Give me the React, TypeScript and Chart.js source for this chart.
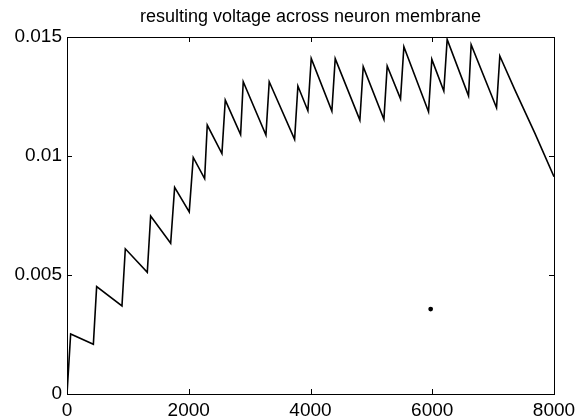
import React, { useEffect, useRef } from "react";
import { Chart, registerables } from "chart.js";

Chart.register(...registerables);

const titleText = "resulting voltage across neuron membrane";
const times = [0, 60, 433, 487, 903, 958, 1319, 1374, 1703, 1768, 2008, 2074, 2261, 2304, 2545, 2600, 2852, 2895, 3268, 3322, 3739, 3793, 3957, 4012, 4351, 4406, 4811, 4866, 5206, 5260, 5479, 5534, 5939, 5993, 6190, 6245, 6596, 6639, 7056, 7110, 7359, 7687, 8000];
const volts = [0, 0.00252, 0.00209, 0.00451, 0.0037, 0.0061, 0.00511, 0.00748, 0.00633, 0.00868, 0.00765, 0.00994, 0.00905, 0.0113, 0.0101, 0.01235, 0.0109, 0.01312, 0.01088, 0.01312, 0.0107, 0.01294, 0.0119, 0.0141, 0.01189, 0.01409, 0.01151, 0.01375, 0.01154, 0.01378, 0.0124, 0.01459, 0.01186, 0.01406, 0.01273, 0.0149, 0.01253, 0.01468, 0.01203, 0.0142, 0.01277, 0.01095, 0.00913];
const speckX = [5974];
const speckY = [0.00357];
const xTicks = [0, 2000, 4000, 6000, 8000];
const yTicks = [0, 0.005, 0.01, 0.015];

const FONT = "'Liberation Sans', Arial, sans-serif";

const boxPlugin = {
  id: "matlabBox",
  afterDatasetsDraw(chart: any) {
    const { ctx, chartArea: a, scales } = chart;
    ctx.save();
    ctx.strokeStyle = "#000";
    ctx.lineWidth = 1;
    ctx.strokeRect(a.left + 0.5, a.top + 0.5, a.right - a.left, a.bottom - a.top);
    const tl = 5;
    ctx.beginPath();
    xTicks.forEach((v) => {
      const px = Math.round(scales.x.getPixelForValue(v)) + 0.5;
      ctx.moveTo(px, a.bottom);
      ctx.lineTo(px, a.bottom - tl);
      ctx.moveTo(px, a.top);
      ctx.lineTo(px, a.top + tl);
    });
    yTicks.forEach((v) => {
      const py = Math.round(scales.y.getPixelForValue(v)) + 0.5;
      ctx.moveTo(a.left, py);
      ctx.lineTo(a.left + tl, py);
      ctx.moveTo(a.right, py);
      ctx.lineTo(a.right - tl, py);
    });
    ctx.stroke();
    ctx.restore();
  },
};

export default function App() {
  const ref = useRef<HTMLCanvasElement | null>(null);
  useEffect(() => {
    if (!ref.current) return;
    const chart = new Chart(ref.current, {
      type: "line",
      data: {
        datasets: [
          {
            data: times.map((t, i) => ({ x: t, y: volts[i] })),
            borderColor: "#000",
            borderWidth: 1.6,
            pointRadius: 0,
            tension: 0,
            fill: false,
          },
          {
            data: speckX.map((t, i) => ({ x: t, y: speckY[i] })),
            showLine: false,
            pointRadius: 2.4,
            pointBackgroundColor: "#000",
            pointBorderWidth: 0,
          },
        ],
      },
      options: {
        animation: false,
        responsive: false,
        layout: { padding: { right: 30, left: 0, top: 0, bottom: 0 } },
        plugins: {
          legend: { display: false },
          tooltip: { enabled: false },
          title: {
            display: true,
            text: titleText,
            fullSize: false,
            color: "#000",
            font: { family: FONT, size: 18, weight: "normal" },
            padding: { top: 6.7, bottom: 8.7 },
          },
        },
        scales: {
          x: {
            type: "linear",
            min: 0,
            max: 8000,
            afterBuildTicks: (s: any) => {
              s.ticks = xTicks.map((v) => ({ value: v }));
            },
            afterFit: (s: any) => {
              s.height = 25;
            },
            grid: { display: false, drawTicks: false },
            border: { display: false },
            ticks: {
              color: "#000",
              font: { family: FONT, size: 19 },
              padding: 5,
              maxRotation: 0,
              autoSkip: false,
              callback: (v: any) => String(v),
            },
          },
          y: {
            type: "linear",
            min: 0,
            max: 0.015,
            afterBuildTicks: (s: any) => {
              s.ticks = yTicks.map((v) => ({ value: v }));
            },
            afterFit: (s: any) => {
              s.width = 67;
            },
            grid: { display: false, drawTicks: false },
            border: { display: false },
            ticks: {
              color: "#000",
              font: { family: FONT, size: 19 },
              padding: 5,
              autoSkip: false,
              callback: (v: any) => String(Number(Number(v).toFixed(4))),
            },
          },
        },
      },
      plugins: [boxPlugin],
    });
    return () => chart.destroy();
  }, []);
  return (
    <div style={{ position: "fixed", left: 0, top: 0, width: 584, height: 419, background: "#fff" }}>
      <canvas ref={ref} width={584} height={419} />
    </div>
  );
}
